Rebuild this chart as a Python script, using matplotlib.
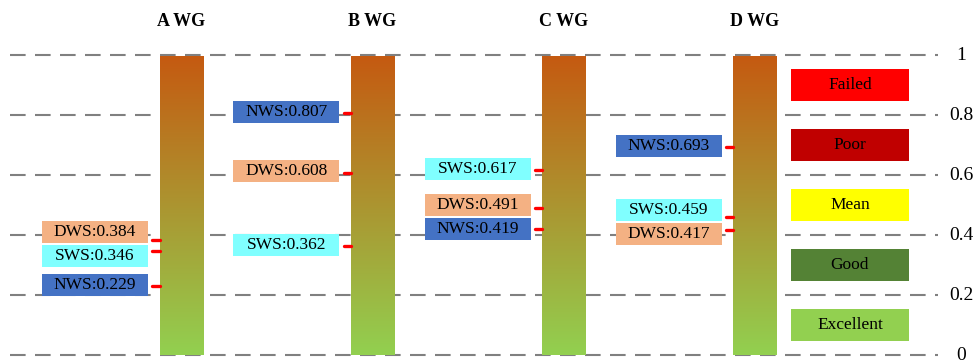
import matplotlib
matplotlib.use('Agg')
import matplotlib.pyplot as plt
import numpy as np
from matplotlib.patches import Rectangle
from matplotlib.colors import LinearSegmentedColormap
import matplotlib.transforms as mtrans

plt.rcParams['font.family'] = ['Liberation Serif', 'DejaVu Serif']

# ---- data ----
groups = ['A WG', 'B WG', 'C WG', 'D WG']
series = ['NWS', 'SWS', 'DWS']
nws = [0.229, 0.807, 0.419, 0.693]
sws = [0.346, 0.362, 0.617, 0.459]
dws = [0.384, 0.608, 0.491, 0.417]
series_colors = ['#4472C4', '#80FFFF', '#F4B183']
legend_labels = ['Failed', 'Poor', 'Mean', 'Good', 'Excellent']
legend_colors = ['#FF0000', '#C00000', '#FFFF00', '#548235', '#92D050']
legend_centers = [0.9, 0.7, 0.5, 0.3, 0.1]
yticks = [0, 0.2, 0.4, 0.6, 0.8, 1]
ytick_labels = ['0', '0.2', '0.4', '0.6', '0.8', '1']

values = [nws, sws, dws]

# ---- layout ----
W, H = 975, 360
fig = plt.figure(figsize=(W / 100, H / 100), dpi=100)
ax_left, ax_right, ax_bottom, ax_top = 10, 938, 5, 305
ax = fig.add_axes([ax_left / W, ax_bottom / H, (ax_right - ax_left) / W, (ax_top - ax_bottom) / H])
ax.set_xlim(-0.894, 3.957)
ax.set_ylim(0, 1)
for s in ax.spines.values():
    s.set_visible(False)
ax.set_xticks([])
ax.set_yticks([])

# gridlines
for yv in yticks:
    ax.plot([-0.894, 3.957], [yv, yv], color='#808080', lw=1.5,
            linestyle=(0, (7.5, 4.5)), zorder=1, clip_on=False)

# right tick labels
tr = mtrans.blended_transform_factory(fig.transFigure, ax.transData)
for yv, lab in zip(yticks, ytick_labels):
    ax.text(961 / W, yv, lab, transform=tr, ha='center', va='center',
            fontsize=14, color='black', clip_on=False)

cmap = LinearSegmentedColormap.from_list('bar', ['#92D050', '#C55A11'])
grad = np.linspace(0, 1, 256).reshape(-1, 1)
bar_half = 0.1125
box_w = 0.554
box_h = 0.073
gap = 0.08


def spread(vals, gap):
    order = sorted(range(len(vals)), key=lambda i: vals[i])
    clusters = [[i] for i in order]

    def positions(cl):
        m = np.mean([vals[i] for i in cl])
        n = len(cl)
        return [m + (k - (n - 1) / 2) * gap for k in range(n)]

    merged = True
    while merged:
        merged = False
        for j in range(len(clusters) - 1):
            a = positions(clusters[j])
            b = positions(clusters[j + 1])
            if b[0] - a[-1] < gap:
                clusters[j] = clusters[j] + clusters[j + 1]
                del clusters[j + 1]
                merged = True
                break
    out = [0] * len(vals)
    for cl in clusters:
        for i, p in zip(cl, positions(cl)):
            out[i] = p
    return out


for gi, g in enumerate(groups):
    x = gi
    ax.imshow(grad, extent=[x - bar_half, x + bar_half, 0, 0.995], origin='lower',
              aspect='auto', cmap=cmap, zorder=3)
    ax.text(x, 1.11, g, ha='center', va='center', fontsize=13, fontweight='bold', clip_on=False)
    vals = [values[si][gi] for si in range(len(series))]
    ys = spread(vals, gap)
    for si in range(len(series)):
        v = vals[si]
        yl = ys[si] + 0.004
        right = x - 0.173
        ax.add_patch(Rectangle((right - box_w, yl - box_h / 2), box_w, box_h,
                               facecolor=series_colors[si], edgecolor='none', zorder=4))
        ax.text(right - box_w / 2, yl, f'{series[si]}:{v:.3f}', ha='center', va='center',
                fontsize=12.5, zorder=5)
        ax.plot([x - 0.150, x - bar_half], [v, v], color='#FF0000', lw=2.4,
                solid_capstyle='round', zorder=5)

# legend boxes
lx0 = 3 + 0.188
lw_ = 0.617
lh = 0.107
for lab, col, c in zip(legend_labels, legend_colors, legend_centers):
    ax.add_patch(Rectangle((lx0, c - lh / 2), lw_, lh, facecolor=col, edgecolor='none', zorder=4))
    ax.text(lx0 + lw_ / 2, c, lab, ha='center', va='center', fontsize=12.5, zorder=5)

fig.savefig('out.png', dpi=100)
